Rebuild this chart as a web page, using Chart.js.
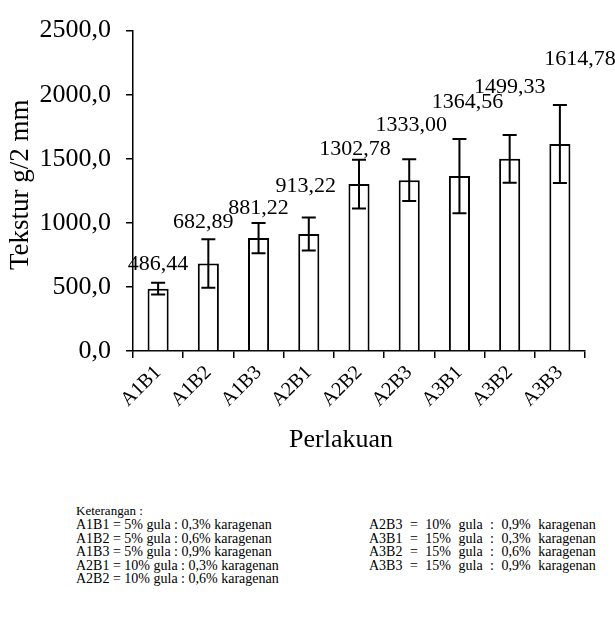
<!DOCTYPE html>
<html>
<head>
<meta charset="utf-8">
<script src="https://cdn.jsdelivr.net/npm/chart.js@4/dist/chart.umd.min.js"></script>
<style>
  html, body { margin: 0; padding: 0; background: #ffffff; }
  #wrap { position: relative; width: 615px; height: 470px; }
  .legend { position: absolute; font-family: 'Liberation Serif', 'Times New Roman', serif; font-size: 14px; line-height: 13.6px; color: #000; white-space: pre; }
</style>
</head>
<body>
<div id="wrap"><canvas id="c"></canvas></div>
<div id="legendTitle" class="legend" style="left:76px;top:504px;font-size:13px;">Keterangan :</div>
<div id="legendLeft" class="legend" style="left:76px;top:518px;"></div>
<div id="legendRight" class="legend" style="left:369px;top:518px;word-spacing:4px;"></div>
<script>
// ---- data ----
const categories = ['A1B1', 'A1B2', 'A1B3', 'A2B1', 'A2B2', 'A2B3', 'A3B1', 'A3B2', 'A3B3'];
const meanValues = [486.44, 682.89, 881.22, 913.22, 1302.78, 1333.00, 1364.56, 1499.33, 1614.78];
const errorValues = [46, 190, 118, 129, 190, 163, 289, 187, 304];
const yTickLabels = ['0,0', '500,0', '1000,0', '1500,0', '2000,0', '2500,0'];
const sugarLevels = ['5%', '5%', '5%', '10%', '10%', '10%', '15%', '15%', '15%'];
const carrageenanLevels = ['0,3%', '0,6%', '0,9%', '0,3%', '0,6%', '0,9%', '0,3%', '0,6%', '0,9%'];
const xTitle = 'Perlakuan';
const yTitle = 'Tekstur g/2 mm';

// ---- legend text ----
const legendLines = categories.map((c, i) => c + ' = ' + sugarLevels[i] + ' gula : ' + carrageenanLevels[i] + ' karagenan');
document.getElementById('legendLeft').textContent = legendLines.slice(0, 5).join('\n');
document.getElementById('legendRight').textContent = legendLines.slice(5).join('\n');

// ---- styling config (pixel offsets for the manually placed data labels) ----
const labelOffsets = [[0, -24], [-5, -41], [0, -30], [-3, -48], [-4, -35], [2, -55], [8, -74], [0, -72], [20, -85]];

const serif = "'Liberation Serif', 'Times New Roman', serif";

const errorBarPlugin = {
  id: 'errorBars',
  afterDatasetsDraw(chart) {
    const ctx = chart.ctx;
    const meta = chart.getDatasetMeta(0);
    const ys = chart.scales.y;
    ctx.save();
    ctx.strokeStyle = '#000';
    ctx.lineWidth = 2;
    meta.data.forEach((bar, i) => {
      const v = meanValues[i], e = errorValues[i];
      const yTop = ys.getPixelForValue(v + e);
      const yBot = ys.getPixelForValue(v - e);
      const x = bar.x;
      ctx.beginPath();
      ctx.moveTo(x, yTop); ctx.lineTo(x, yBot);
      ctx.moveTo(x - 7, yTop); ctx.lineTo(x + 7, yTop);
      ctx.moveTo(x - 7, yBot); ctx.lineTo(x + 7, yBot);
      ctx.stroke();
    });
    // data labels
    ctx.fillStyle = '#000';
    ctx.font = '22px ' + serif;
    ctx.textAlign = 'center';
    ctx.textBaseline = 'middle';
    meta.data.forEach((bar, i) => {
      const txt = meanValues[i].toFixed(2).replace('.', ',');
      ctx.fillText(txt, bar.x + labelOffsets[i][0], bar.y + labelOffsets[i][1]);
    });
    // axis titles
    const area = chart.chartArea;
    ctx.font = '26px ' + serif;
    ctx.fillText(xTitle, (area.left + area.right) / 2 - 18, 440);
    ctx.translate(21, (area.top + area.bottom) / 2 - 6);
    ctx.rotate(-Math.PI / 2);
    ctx.font = '27px ' + serif;
    ctx.fillText(yTitle, 0, 0);
    ctx.restore();
  }
};

new Chart(document.getElementById('c'), {
  type: 'bar',
  data: {
    labels: categories,
    datasets: [{
      data: meanValues,
      backgroundColor: '#ffffff',
      borderColor: '#000000',
      borderWidth: 2,
      barPercentage: 0.42,
      categoryPercentage: 1.0
    }]
  },
  options: {
    responsive: true,
    maintainAspectRatio: false,
    animation: false,
    devicePixelRatio: 1,
    layout: { padding: { left: 0, top: 22, right: 30, bottom: 0 } },
    plugins: { legend: { display: false }, tooltip: { enabled: false } },
    scales: {
      x: {
        afterFit(scale) { scale.height = 119; },
        grid: { display: true, drawOnChartArea: false, drawTicks: true, tickLength: 7, color: '#000', lineWidth: 1.5, offset: true },
        border: { display: true, color: '#000', width: 1.5 },
        ticks: { autoSkip: false, minRotation: 45, maxRotation: 45, padding: 3, color: '#000', font: { family: serif, size: 20 } },
        title: { display: false }
      },
      y: {
        min: 0, max: 2500,
        afterFit(scale) { scale.width = 133; },
        grid: { display: true, drawOnChartArea: false, drawTicks: true, tickLength: 7, color: '#000', lineWidth: 1.5 },
        border: { display: true, color: '#000', width: 1.5 },
        ticks: { stepSize: 500, padding: 15, color: '#000', font: { family: serif, size: 26 },
          callback: (value, index) => yTickLabels[index] },
        title: { display: false }
      }
    }
  },
  plugins: [errorBarPlugin]
});
</script>
</body>
</html>
